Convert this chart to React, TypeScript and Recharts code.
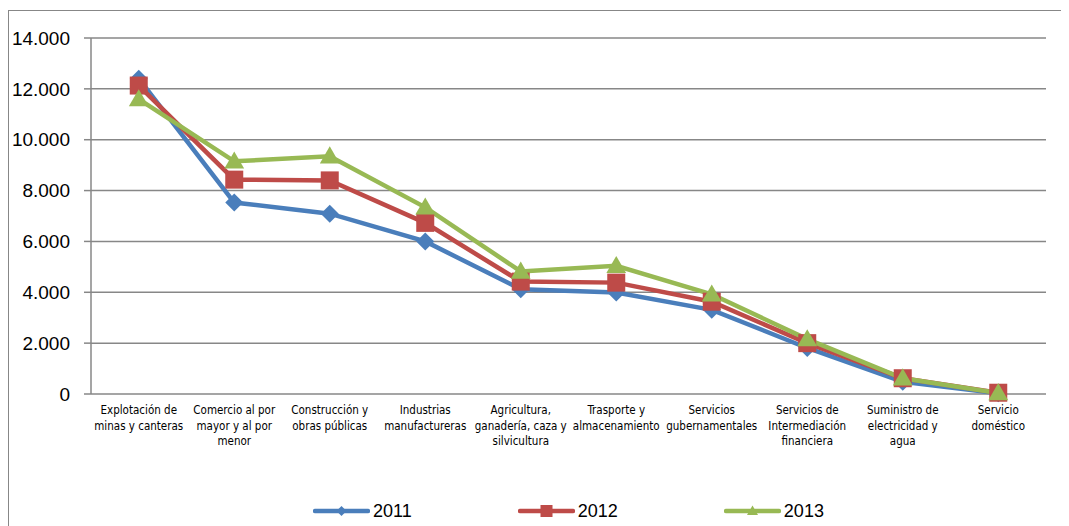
import React from 'react';
import { LineChart, Line, XAxis, YAxis, CartesianGrid, Legend } from 'recharts';

const categories = [
  'Explotación de minas y canteras',
  'Comercio al por mayor y al por menor',
  'Construcción y obras públicas',
  'Industrias manufactureras',
  'Agricultura, ganadería, caza y silvicultura',
  'Trasporte y almacenamiento',
  'Servicios gubernamentales',
  'Servicios de Intermediación financiera',
  'Suministro de electricidad y agua',
  'Servicio doméstico',
];
const categoryLabelLines = [
  ['Explotación de', 'minas y canteras'],
  ['Comercio al por', 'mayor y al por', 'menor'],
  ['Construcción y', 'obras públicas'],
  ['Industrias', 'manufactureras'],
  ['Agricultura,', 'ganadería, caza y', 'silvicultura'],
  ['Trasporte y', 'almacenamiento'],
  ['Servicios', 'gubernamentales'],
  ['Servicios de', 'Intermediación', 'financiera'],
  ['Suministro de', 'electricidad y', 'agua'],
  ['Servicio', 'doméstico'],
];
const series2011 = [12400, 7530, 7090, 6000, 4120, 3990, 3310, 1810, 480, 30];
const series2012 = [12130, 8430, 8400, 6730, 4420, 4380, 3630, 2000, 620, 50];
const series2013 = [11600, 9150, 9350, 7340, 4820, 5040, 3920, 2160, 620, 40];
const seriesNames = ['2011', '2012', '2013'];
const seriesColors = ['#4A7EBB', '#BE4B48', '#98B954'];
const yTicks = [0, 2000, 4000, 6000, 8000, 10000, 12000, 14000];
const boundaryTicks = [0, 1, 2, 3, 4, 5, 6, 7, 8, 9, 10];

const data = categories.map((name, i) => ({
  name,
  s2011: series2011[i],
  s2012: series2012[i],
  s2013: series2013[i],
}));

const GRID = '#878787';

const fmt = (v: number) => {
  const s = String(Math.round(v));
  return s.replace(/\B(?=(\d{3})+(?!\d))/g, '.');
};

const Marker = ({ kind, cx, cy, color, r }: any) => {
  if (cx == null || cy == null) return null;
  if (kind === 0) {
    return (
      <polygon
        points={`${cx},${cy - r} ${cx + r},${cy} ${cx},${cy + r} ${cx - r},${cy}`}
        fill={color}
      />
    );
  }
  if (kind === 1) {
    return <rect x={cx - r} y={cy - r} width={2 * r} height={2 * r} fill={color} />;
  }
  return (
    <polygon
      points={`${cx},${cy - r * 1.1} ${cx + r * 1.1},${cy + r * 0.8} ${cx - r * 1.1},${cy + r * 0.8}`}
      fill={color}
    />
  );
};

const makeDot = (kind: number, color: string, r: number) => (props: any) => (
  <Marker key={`d-${kind}-${props.index}`} kind={kind} cx={props.cx} cy={props.cy} color={color} r={r} />
);

const CategoryTick = (props: any) => {
  const { x, y, payload } = props;
  const lines = categoryLabelLines[payload.index] || [payload.value];
  return (
    <text
      x={x}
      y={y}
      textAnchor="middle"
      fill="#000"
      style={{ fontFamily: '"DejaVu Sans Condensed", "DejaVu Sans", sans-serif', fontSize: 11.5, fontStretch: 'condensed' }}
    >
      {lines.map((l: string, i: number) => (
        <tspan key={i} x={x} y={y + 12 + i * 15.5}>
          {l}
        </tspan>
      ))}
    </text>
  );
};

const EmptyTick = () => <g />;

const renderLegend = (props: any) => {
  const { payload } = props;
  return (
    <div
      style={{
        display: 'flex',
        justifyContent: 'center',
        gap: 106,
        fontFamily: '"Liberation Sans", Arial, sans-serif',
        fontSize: 18,
        color: '#000',
        height: 24,
        alignItems: 'center',
      }}
    >
      {(payload || []).map((entry: any, i: number) => (
        <div key={i} style={{ display: 'flex', alignItems: 'center' }}>
          <svg width={57} height={20}>
            <line x1={2} x2={55} y1={10} y2={10} stroke={entry.color} strokeWidth={4.5} strokeLinecap="round" />
            <Marker kind={i} cx={28.5} cy={10} color={entry.color} r={i === 1 ? 6 : 5} />
          </svg>
          <span style={{ marginLeft: 3 }}>{entry.value}</span>
        </div>
      ))}
    </div>
  );
};

export default function App() {
  return (
    <div style={{ position: 'relative', width: 1061, height: 518 }}>
      <style>{'html,body{overflow:hidden;}'}</style>
      <div
        style={{
          position: 'absolute',
          top: 2,
          left: 0,
          width: 1080,
          height: 600,
          borderTop: `1px solid ${GRID}`,
          borderLeft: `1px solid ${GRID}`,
          boxSizing: 'border-box',
        }}
      />
      <div style={{ position: 'absolute', top: 0, left: 0 }}>
        <LineChart
          width={1061}
          height={518}
          data={data}
          margin={{ top: 30, right: 23, left: 0, bottom: 72 }}
        >
          <CartesianGrid
            xAxisId="cat"
            yAxisId="y"
            vertical={false}
            stroke={GRID}
            strokeWidth={1.5}
          />
          <XAxis
            xAxisId="bound"
            type="number"
            domain={[0, 10]}
            ticks={boundaryTicks}
            allowDataOverflow
            height={0}
            tick={<EmptyTick />}
            tickSize={6}
            axisLine={{ stroke: GRID, strokeWidth: 1.5 }}
            tickLine={{ stroke: GRID, strokeWidth: 1.5 }}
          />
          <XAxis
            xAxisId="cat"
            dataKey="name"
            type="category"
            scale="band"
            interval={0}
            height={60}
            axisLine={false}
            tickLine={false}
            tick={<CategoryTick />}
          />
          <YAxis
            yAxisId="y"
            width={83}
            domain={[0, 14000]}
            ticks={yTicks}
            tickFormatter={fmt}
            tickSize={7}
            tickMargin={14}
            axisLine={{ stroke: GRID, strokeWidth: 1.5 }}
            tickLine={{ stroke: GRID, strokeWidth: 1.5 }}
            tick={{ fill: '#000', fontSize: 19, fontFamily: '"Liberation Sans", Arial, sans-serif' }}
          />
          <Legend
            layout="horizontal"
            verticalAlign="middle"
            align="center"
            content={renderLegend}
            wrapperStyle={{ position: 'absolute', top: 491, left: 83, width: 955 }}
          />
          <Line
            xAxisId="cat"
            yAxisId="y"
            dataKey="s2011"
            name={seriesNames[0]}
            stroke={seriesColors[0]}
            strokeWidth={4.5}
            isAnimationActive={false}
            dot={makeDot(0, seriesColors[0], 9)}
            activeDot={false}
          />
          <Line
            xAxisId="cat"
            yAxisId="y"
            dataKey="s2012"
            name={seriesNames[1]}
            stroke={seriesColors[1]}
            strokeWidth={4.5}
            isAnimationActive={false}
            dot={makeDot(1, seriesColors[1], 9)}
            activeDot={false}
          />
          <Line
            xAxisId="cat"
            yAxisId="y"
            dataKey="s2013"
            name={seriesNames[2]}
            stroke={seriesColors[2]}
            strokeWidth={4.5}
            isAnimationActive={false}
            dot={makeDot(2, seriesColors[2], 9)}
            activeDot={false}
          />
        </LineChart>
      </div>
    </div>
  );
}
